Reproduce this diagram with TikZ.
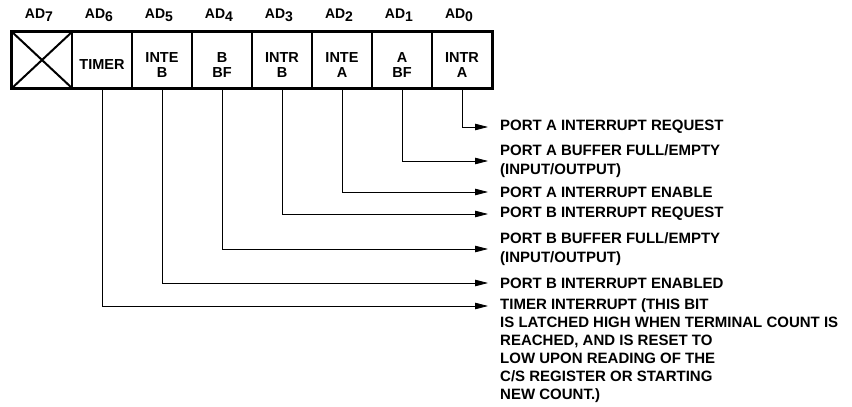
\documentclass[tikz,border=0pt]{standalone}
\usepackage{fontspec}
\setmainfont{Liberation Sans}
\usetikzlibrary{arrows.meta}
\begin{document}
\begin{tikzpicture}[x=1pt,y=-1pt,
  cell/.style={draw,line width=1.8pt,minimum width=60pt,minimum height=56pt,inner sep=0pt},
  celltext/.style={inner sep=0pt,align=center,font=\bfseries\fontsize{14.5}{15.5}\selectfont},
  adlab/.style={font=\bfseries\fontsize{14}{16}\selectfont,inner sep=0pt},
  desc/.style={anchor=west,inner sep=0pt,align=left,font=\bfseries\fontsize{15}{19}\selectfont},
  arr/.style={line width=0.8pt,-{Triangle[length=13pt,width=6.5pt]}}]
\useasboundingbox (0,0) rectangle (852,407);
% cells
\foreach \i/\t in {7/{},6/{TIMER},5/{INTE\\B},4/{B\\BF},3/{INTR\\B},2/{INTE\\A},1/{A\\BF},0/{INTR\\A}}{
  \node[cell] (c\i) at ({42+60*(7-\i)},60) {};
  \node[celltext] (ct\i) at ({42+60*(7-\i)},65) {\t};
  \node[adlab] (l\i) at ({39+60*(7-\i)},15) {AD\raisebox{-3pt}{\i}};
}
\draw[line width=3pt] (c7.north west) rectangle (c0.south east);
\draw[line width=2pt] (c7.north west) -- (c7.south east) (c7.south west) -- (c7.north east);
% descriptions
\node[desc] (t0) at (500,127) {PORT A INTERRUPT REQUEST};
\node[desc] (t1) at (500,161) {PORT A BUFFER FULL/EMPTY\\(INPUT/OUTPUT)};
\node[desc] (t2) at (500,192) {PORT A INTERRUPT ENABLE};
\node[desc] (t3) at (500,214) {PORT B INTERRUPT REQUEST};
\node[desc] (t4) at (500,249) {PORT B BUFFER FULL/EMPTY\\(INPUT/OUTPUT)};
\node[desc] (t5) at (500,283) {PORT B INTERRUPT ENABLED};
\node[desc,font=\bfseries\fontsize{15}{18}\selectfont] (t6) at (500,351)
  {TIMER INTERRUPT (THIS BIT\\IS LATCHED HIGH WHEN TERMINAL COUNT IS\\REACHED, AND IS RESET TO\\LOW UPON READING OF THE\\C/S REGISTER OR STARTING\\NEW COUNT.)};
\coordinate (e6) at (488,306);
% connectors
\foreach \i in {0,...,5}{
  \draw[arr] (c\i.south) |- ([xshift=-12pt]t\i.west);
}
\draw[arr] (c6.south) |- (e6);
\end{tikzpicture}
\end{document}
